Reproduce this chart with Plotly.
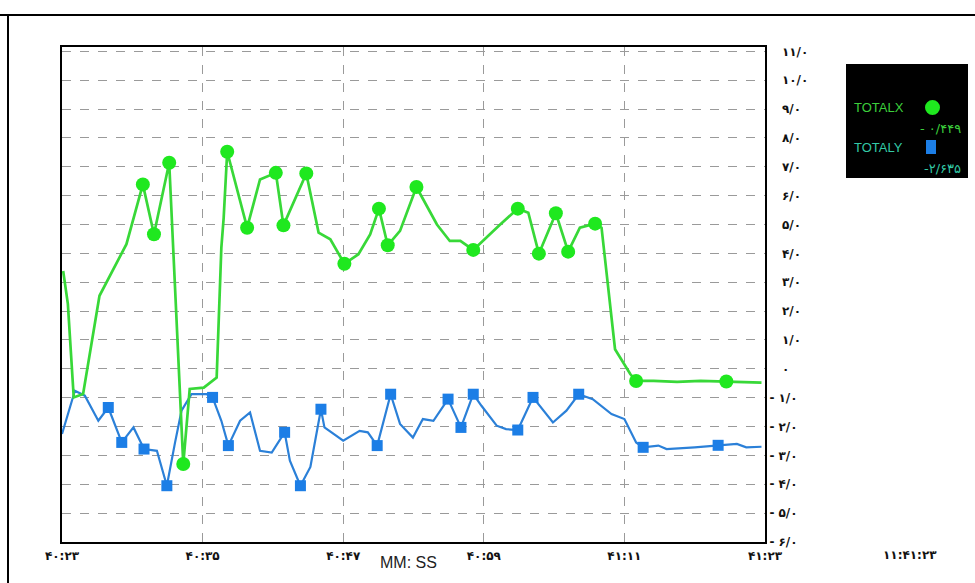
import plotly.graph_objects as go

# ---- data (seconds after 40:23) ----
x_tick_vals = [0, 12, 24, 36, 48, 60]
x_tick_text = ["۴۰:۲۳", "۴۰:۳۵", "۴۰:۴۷", "۴۰:۵۹", "۴۱:۱۱", "۴۱:۲۳"]

y_tick_vals = list(range(-6, 12))
y_tick_text = ["- ۶/۰", "- ۵/۰", "- ۴/۰", "- ۳/۰", "- ۲/۰", "- ۱/۰", "۰",
               "۱/۰", "۲/۰", "۳/۰", "۴/۰", "۵/۰", "۶/۰", "۷/۰", "۸/۰", "۹/۰", "۱۰/۰", "۱۱/۰"]

totalx_t = [0.1, 0.5, 1.0, 1.8, 3.2, 5.5, 6.9, 7.85, 9.15, 10.35, 10.9, 12.1, 13.2, 13.6, 13.8,
            14.1, 15.8, 16.9, 18.25, 18.9, 20.85, 21.9, 22.9, 24.1, 25.3, 26.3, 27.05, 27.8,
            28.85, 30.25, 32.0, 33.1, 34.0, 35.1, 37.4, 38.9, 39.8, 40.7, 42.15, 43.2, 44.2,
            45.5, 46.05, 47.2, 48.5, 49.0, 50.5, 52.5, 54.5, 56.7, 58.0, 59.7]
totalx_v = [3.39, 2.25, -0.99, -0.87, 2.53, 4.32, 6.39, 4.66, 7.14, -3.3, -0.7, -0.65, -0.3, 4.2, 5.24,
            7.52, 4.89, 6.56, 6.79, 4.97, 6.77, 4.72, 4.49, 3.64, 3.97, 4.66, 5.55, 4.28,
            4.78, 6.3, 5.0, 4.43, 4.43, 4.12, 5.0, 5.55, 5.41, 3.99, 5.39, 4.06, 4.89,
            5.03, 4.89, 0.68, -0.18, -0.42, -0.42, -0.45, -0.42, -0.44, -0.44, -0.48]

totalx_mark_t = [6.9, 7.85, 9.15, 10.35, 14.1, 15.8, 18.25, 18.9, 20.85, 24.1, 27.05, 27.8,
                 30.25, 35.1, 38.9, 40.7, 42.15, 43.2, 45.5, 49.0, 56.7]
totalx_mark_v = [6.39, 4.66, 7.14, -3.3, 7.52, 4.89, 6.79, 4.97, 6.77, 3.64, 5.55, 4.28,
                 6.3, 4.12, 5.55, 3.99, 5.39, 4.06, 5.03, -0.42, -0.44]

totaly_t = [0.0, 1.1, 1.95, 3.1, 3.95, 5.1, 6.1, 7.0, 8.1, 8.95, 9.65, 10.2, 11.05, 12.35, 12.85,
            13.6, 14.2, 15.2, 16.05, 16.9, 17.9, 19.0, 19.45, 20.35, 21.2, 22.1, 22.4, 24.0,
            25.4, 26.1, 26.9, 28.05, 28.85, 29.95, 30.8, 31.7, 32.95, 34.05, 35.1, 35.8, 37.1,
            37.9, 38.9, 40.2, 41.9, 43.05, 44.1, 45.3, 46.9, 48.0, 49.0, 49.6, 50.9, 51.6,
            54.0, 56.0, 57.6, 58.4, 59.7]
totaly_v = [-2.26, -0.76, -0.93, -1.8, -1.34, -2.55, -2.03, -2.78, -2.84, -4.05, -2.55, -1.45, -0.88, -0.88, -0.99,
            -1.8, -2.66, -1.8, -1.51, -2.84, -2.9, -2.2, -3.18, -4.05, -3.4, -1.4, -2.03, -2.49,
            -2.15, -2.2, -2.66, -0.88, -1.91, -2.38, -1.74, -1.8, -1.05, -2.03, -0.88, -1.28, -1.97,
            -2.09, -2.12, -0.99, -1.86, -1.45, -0.88, -1.05, -1.57, -1.74, -2.55, -2.72, -2.66, -2.78,
            -2.72, -2.65, -2.6, -2.72, -2.7]

totaly_mark_t = [3.95, 5.1, 7.0, 8.95, 12.85, 14.2, 19.0, 20.35, 22.1, 26.9, 28.05, 32.95,
                 34.05, 35.1, 38.9, 40.2, 44.1, 49.6, 56.0]
totaly_mark_v = [-1.34, -2.55, -2.78, -4.05, -0.99, -2.66, -2.2, -4.05, -1.4, -2.66, -0.88, -1.05,
                 -2.03, -0.88, -2.12, -0.99, -0.88, -2.72, -2.65]

last_x = "- ۰/۴۴۹"
last_y = "-۲/۶۳۵"

GREEN_LINE = "#38d838"
GREEN_MARK = "#1fe81f"
BLUE_LINE = "#2b80d8"
BLUE_MARK = "#1c7ee6"

fig = go.Figure()
fig.add_trace(go.Scatter(x=totaly_t, y=totaly_v, mode="lines",
                         line=dict(color=BLUE_LINE, width=2.2), name="TOTALY", showlegend=False))
fig.add_trace(go.Scatter(x=totaly_mark_t, y=totaly_mark_v, mode="markers",
                         marker=dict(symbol="square", size=11, color=BLUE_MARK), showlegend=False))
fig.add_trace(go.Scatter(x=totalx_t, y=totalx_v, mode="lines",
                         line=dict(color=GREEN_LINE, width=2.7), name="TOTALX", showlegend=False))
fig.add_trace(go.Scatter(x=totalx_mark_t, y=totalx_mark_v, mode="markers",
                         marker=dict(symbol="circle", size=14, color=GREEN_MARK), showlegend=False))

label_font = dict(family="DejaVu Sans", size=12, color="#111111", weight="bold")

fig.update_layout(
    width=975, height=583,
    margin=dict(l=62, r=210, t=47, b=41),
    paper_bgcolor="white", plot_bgcolor="white",
    showlegend=False,
    xaxis=dict(range=[0, 60], tickvals=x_tick_vals, ticktext=x_tick_text,
               showgrid=True, gridcolor="#9a9a9a", gridwidth=1, griddash="dash",
               showline=True, linecolor="black", linewidth=2, mirror=True,
               ticks="outside", ticklen=2, tickcolor="white",
               tickfont=label_font, zeroline=False),
    yaxis=dict(range=[-6, 11.15], side="right", tickvals=y_tick_vals,
               ticktext=[t if t.startswith("-") else "\u00a0\u00a0\u00a0" + t for t in y_tick_text],
               showgrid=True, gridcolor="#9a9a9a", gridwidth=1, griddash="dash",
               showline=True, linecolor="black", linewidth=2, mirror=True,
               ticks="", tickfont=label_font, zeroline=False),
)

# outer frame
fig.add_shape(type="line", xref="paper", yref="paper", x0=-62/703, x1=(975-62)/703,
              y0=(583-41-15)/495, y1=(583-41-15)/495, line=dict(color="black", width=2))
fig.add_shape(type="line", xref="paper", yref="paper", x0=-54/703, x1=-54/703,
              y0=-41/495, y1=(583-41-15)/495, line=dict(color="black", width=2))

# legend box (pixel positions converted to paper coords)
def px(x):
    return (x - 62) / 703

def py(y):
    return (542 - y) / 495

fig.add_shape(type="rect", xref="paper", yref="paper", x0=px(846), x1=px(968), y0=py(178), y1=py(64),
              fillcolor="black", line=dict(color="black", width=0))
fig.add_shape(type="circle", xref="paper", yref="paper", x0=px(925), x1=px(940), y0=py(115), y1=py(100),
              fillcolor=GREEN_MARK, line=dict(color=GREEN_MARK, width=0))
fig.add_shape(type="rect", xref="paper", yref="paper", x0=px(926), x1=px(936), y0=py(154), y1=py(140),
              fillcolor=BLUE_MARK, line=dict(color=BLUE_MARK, width=0))

def ann(text, x, y, color, size, anchor="left", family="Liberation Sans", weight="normal"):
    fig.add_annotation(text=text, xref="paper", yref="paper", x=px(x), y=py(y),
                       xanchor=anchor, yanchor="middle", showarrow=False,
                       font=dict(family=family, size=size, color=color, weight=weight))

ann("TOTALX", 852, 107, "#3ccf3c", 13)
ann("TOTALY", 852, 147, "#33c9a6", 13)
ann(last_x, 963, 128, "#3ccf3c", 13, anchor="right", family="DejaVu Sans")
ann(last_y, 963, 168, "#33c9a6", 13, anchor="right", family="DejaVu Sans")

ann("MM: SS", 408, 562, "#222222", 16, anchor="center")
ann("۱۱:۴۱:۲۳", 910, 555, "#111111", 12, anchor="center", family="DejaVu Sans", weight="bold")

fig.write_html("out.html", config={"displayModeBar": False},
               post_script="document.body.style.margin='0';")
